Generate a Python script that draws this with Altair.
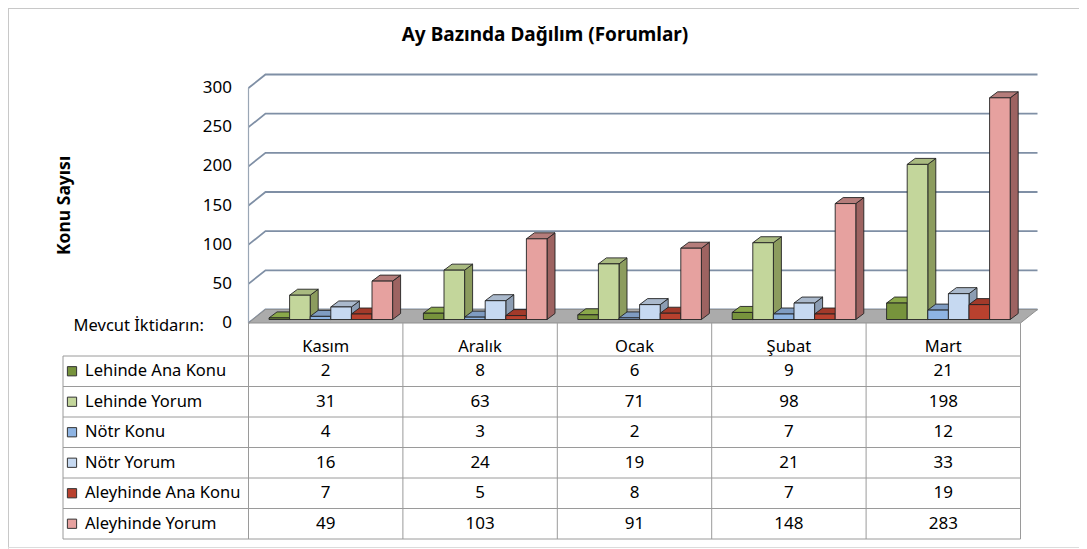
import altair as alt
import pandas as pd

# ---------------- data ----------------
months = ["Kasım", "Aralık", "Ocak", "Şubat", "Mart"]
series_names = ["Lehinde Ana Konu", "Lehinde Yorum", "Nötr Konu",
                "Nötr Yorum", "Aleyhinde Ana Konu", "Aleyhinde Yorum"]
lehinde_ana_konu = [2, 8, 6, 9, 21]
lehinde_yorum = [31, 63, 71, 98, 198]
notr_konu = [4, 3, 2, 7, 12]
notr_yorum = [16, 24, 19, 21, 33]
aleyhinde_ana_konu = [7, 5, 8, 7, 19]
aleyhinde_yorum = [49, 103, 91, 148, 283]
y_ticks = [0, 50, 100, 150, 200, 250, 300]
title_text = "Ay Bazında Dağılım (Forumlar)"
y_title = "Konu Sayısı"
table_caption = "Mevcut İktidarın:"

all_series = [lehinde_ana_konu, lehinde_yorum, notr_konu,
              notr_yorum, aleyhinde_ana_konu, aleyhinde_yorum]

# ---------------- style ----------------
front_colors = ["#77933c", "#c3d69b", "#8eb4e3", "#c6d9f1", "#b9412e", "#e6a19f"]
side_colors = ["#4f6228", "#8c9c5e", "#5b7ba3", "#8c9db3", "#7a2a1f", "#9d6361"]
top_colors = ["#8aa84a", "#a9ba80", "#7f9cc2", "#aab9cc", "#a23a2a", "#b57d7b"]
FONT = "Noto Sans"
FS = 16.5

W, H = 1071, 541
COL = 154.4            # px per category column
X0 = 240.5             # px of category 0 left edge
XMIN, XMAX = -X0 / COL, (W - X0) / COL
PPU = 235.0 / 300.0    # px per count unit
Y0 = 315.0             # px of count 0
YMIN, YMAX = (Y0 - H) / PPU, Y0 / PPU
ROW = 30.5             # table row height px
R0 = 348.0             # px of first table row line
KMIN, KMAX = -R0 / ROW, (H - R0) / ROW

BAR_OFF = 20.5 / COL
BAR_W = 20.6 / COL
BAR_DX = 8.0 / COL
BAR_DY = 6.0 / PPU
BAR_BASE = 3.5 / PPU
WALL_DX = 17.0 / COL
WALL_DY = 13.5 / PPU
n_cat = len(months)

def ux(px):
    return (px - X0) / COL

xs = alt.Scale(domain=[XMIN, XMAX], nice=False, zero=False)
ys = alt.Scale(domain=[YMIN, YMAX], nice=False, zero=False)
ts = alt.Scale(domain=[KMIN, KMAX], nice=False, zero=False, reverse=True)

def X(f, **kw):
    return alt.X(f, type="quantitative", scale=xs, axis=None, **kw)

def Y(f, **kw):
    return alt.Y(f, type="quantitative", scale=ys, axis=None, **kw)

def T(f, **kw):
    return alt.Y(f, type="quantitative", scale=ts, axis=None, **kw)

# ---------------- geometry tables ----------------
front_rows, side_rows, top_rows = [], [], []
bid = 0
for i in range(n_cat):
    for j, vals in enumerate(all_series):
        v = vals[i]
        xl = i + BAR_OFF + j * BAR_W
        xr = xl + BAR_W
        y0 = BAR_BASE
        y1 = BAR_BASE + v
        front_rows.append(dict(xl=xl, xr=xr, y0=y0, y1=y1, c=front_colors[j]))
        side_rows.append(dict(b=bid, x=xr, lo=y0, hi=y1, c=side_colors[j]))
        side_rows.append(dict(b=bid, x=xr + BAR_DX, lo=y0 + BAR_DY, hi=y1 + BAR_DY, c=side_colors[j]))
        top_rows.append(dict(b=bid, y=y1, lo=xl, hi=xr, c=top_colors[j]))
        top_rows.append(dict(b=bid, y=y1 + BAR_DY, lo=xl + BAR_DX, hi=xr + BAR_DX, c=top_colors[j]))
        bid += 1
front_df = pd.DataFrame(front_rows)
side_df = pd.DataFrame(side_rows)
top_df = pd.DataFrame(top_rows)

grid_rows = []
for t in y_ticks:
    grid_rows.append(dict(t=t, o=0, x=0.0, y=t))
    grid_rows.append(dict(t=t, o=1, x=WALL_DX, y=t + WALL_DY))
    grid_rows.append(dict(t=t, o=2, x=n_cat + WALL_DX, y=t + WALL_DY))
grid_df = pd.DataFrame(grid_rows)

floor_df = pd.DataFrame([
    dict(y=0.0, lo=0.0, hi=float(n_cat)),
    dict(y=WALL_DY, lo=WALL_DX, hi=n_cat + WALL_DX),
])
edge_df = pd.DataFrame([dict(x=0.0, y0=0.0, y1=float(y_ticks[-1]))])

one = pd.DataFrame([dict(a=1)])

# ---------------- plot layers ----------------
grid = alt.Chart(grid_df).mark_line(color="#7f8fa5", strokeWidth=1.8).encode(
    x=X("x"), y=Y("y"), detail="t:N", order=alt.Order("o:Q"))
edge = alt.Chart(edge_df).mark_rule(color="#9aa6b5", strokeWidth=1.2).encode(
    x=X("x"), y=Y("y0"), y2=alt.Y2("y1"))
floor = alt.Chart(floor_df).mark_area(orient="horizontal", color="#ababab",
                                      stroke="#8f8f8f", strokeWidth=1).encode(
    y=Y("y"), x=X("lo", stack=None), x2=alt.X2("hi"))
sides = alt.Chart(side_df).mark_area(orient="vertical", stroke="#222222",
                                     strokeWidth=0.9, strokeJoin="round").encode(
    x=X("x"), y=Y("lo", stack=None), y2=alt.Y2("hi"), detail="b:N",
    color=alt.Color("c:N", scale=None))
tops = alt.Chart(top_df).mark_area(orient="horizontal", stroke="#222222",
                                   strokeWidth=0.9, strokeJoin="round").encode(
    y=Y("y"), x=X("lo", stack=None), x2=alt.X2("hi"), detail="b:N",
    color=alt.Color("c:N", scale=None))
fronts = alt.Chart(front_df).mark_rect(stroke="#222222", strokeWidth=0.9).encode(
    x=X("xl"), x2=alt.X2("xr"), y=Y("y0"), y2=alt.Y2("y1"),
    color=alt.Color("c:N", scale=None))

tick_df = pd.DataFrame(dict(v=y_ticks, lab=[str(t) for t in y_ticks], x=ux(224)))
tick_text = alt.Chart(tick_df).mark_text(font=FONT, fontSize=17, align="right",
                                         baseline="middle", color="#000000").encode(
    x=X("x"), y=Y("v"), text="lab:N")
ytitle_df = pd.DataFrame([dict(x=ux(57), v=(y_ticks[0] + y_ticks[-1]) / 2, lab=y_title)])
ytitle = alt.Chart(ytitle_df).mark_text(font=FONT, fontSize=17.5, fontWeight="bold",
                                        angle=270, align="center", baseline="middle",
                                        color="#000000").encode(
    x=X("x"), y=Y("v"), text="lab:N")
title = alt.Chart(pd.DataFrame([dict(lab=title_text)])).mark_text(
    font=FONT, fontSize=19, fontWeight="bold", align="center", baseline="middle",
    color="#000000").encode(x=alt.value(537), y=alt.value(27), text="lab:N")
frame_top = alt.Chart(one).mark_rule(color="#c8c8c8", strokeWidth=1).encode(
    x=alt.value(0), x2=alt.value(W), y=alt.value(0.5))
frame_left = alt.Chart(one).mark_rule(color="#c8c8c8", strokeWidth=1).encode(
    x=alt.value(0.5), y=alt.value(0), y2=alt.value(539.5))
frame_bottom = alt.Chart(one).mark_rule(color="#dcdcdc", strokeWidth=1).encode(
    x=alt.value(0), x2=alt.value(W), y=alt.value(539.5))

plot_group = alt.layer(frame_top, frame_left, frame_bottom, grid, edge, floor,
                       sides, tops, fronts, tick_text, ytitle, title)

# ---------------- data table ----------------
TL = ux(55)
n_rows = len(series_names)
vline_rows = [dict(x=float(k), k0=-1.08, k1=float(n_rows)) for k in range(n_cat + 1)]
vline_rows.append(dict(x=TL, k0=0.0, k1=float(n_rows)))
vlines_df = pd.DataFrame(vline_rows)
hlines_df = pd.DataFrame([dict(k=float(k), x0=TL, x1=float(n_cat)) for k in range(n_rows + 1)])

vlines = alt.Chart(vlines_df).mark_rule(color="#9a9a9a", strokeWidth=1).encode(
    x=X("x"), y=T("k0"), y2=alt.Y2("k1"))
hlines = alt.Chart(hlines_df).mark_rule(color="#9a9a9a", strokeWidth=1).encode(
    x=X("x0"), x2=alt.X2("x1"), y=T("k"))

head_df = pd.DataFrame(dict(m=months, x=[i + 0.5 for i in range(n_cat)], k=-0.3))
heads = alt.Chart(head_df).mark_text(font=FONT, fontSize=FS, align="center",
                                     baseline="middle", color="#000000").encode(
    x=X("x"), y=T("k"), text="m:N")

val_rows = []
for j, vals in enumerate(all_series):
    for i, v in enumerate(vals):
        val_rows.append(dict(x=i + 0.5, k=j + 0.5, v=str(v)))
vals_df = pd.DataFrame(val_rows)
values = alt.Chart(vals_df).mark_text(font=FONT, fontSize=17, align="center",
                                      baseline="middle", color="#000000").encode(
    x=X("x"), y=T("k"), text="v:N")

lab_df = pd.DataFrame(dict(s=series_names, k=[j + 0.5 for j in range(n_rows)],
                           x=ux(77), xs=ux(64), c=front_colors))
labels = alt.Chart(lab_df).mark_text(font=FONT, fontSize=FS, align="left",
                                     baseline="middle", color="#000000").encode(
    x=X("x"), y=T("k"), text="s:N")
swatches = alt.Chart(lab_df).mark_square(size=85, opacity=1, stroke="#333333",
                                         strokeWidth=1).encode(
    x=X("xs"), y=T("k"), color=alt.Color("c:N", scale=None))
cap_df = pd.DataFrame([dict(x=ux(196), k=-0.98, lab=table_caption)])
caption = alt.Chart(cap_df).mark_text(font=FONT, fontSize=16.5, align="right",
                                      baseline="middle", color="#000000").encode(
    x=X("x"), y=T("k"), text="lab:N")

table_group = alt.layer(vlines, hlines, heads, values, labels, swatches, caption)

chart = alt.layer(plot_group, table_group).resolve_scale(y="independent").properties(
    width=W, height=H, padding=0,
    autosize=alt.AutoSizeParams(type="none"),
).configure_view(stroke=None).configure(background="#ffffff")

chart.save("out.html", embed_options={"renderer": "svg", "actions": False})
